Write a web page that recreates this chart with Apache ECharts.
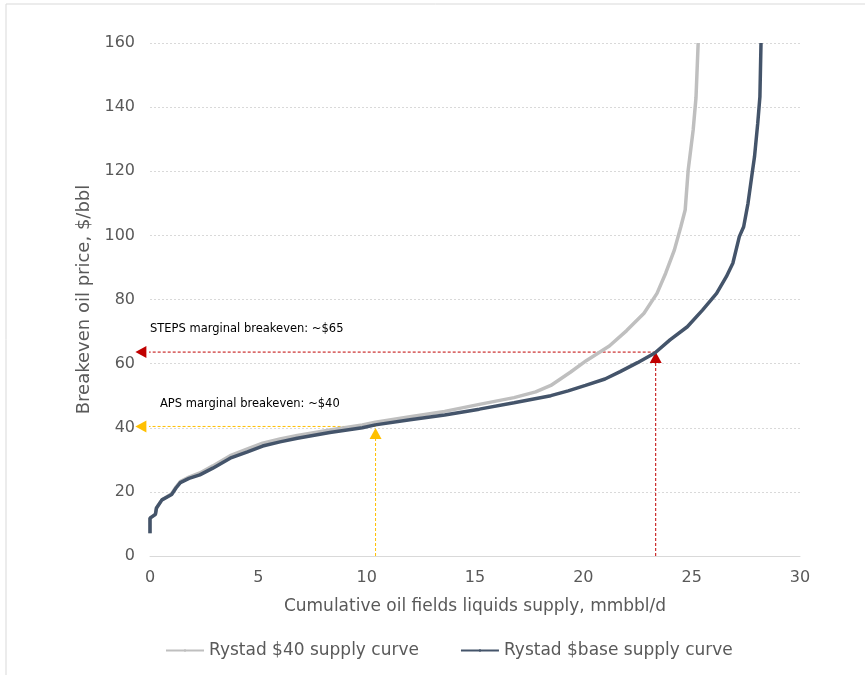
<!DOCTYPE html>
<html>
<head>
<meta charset="utf-8">
<script src="https://cdn.jsdelivr.net/npm/echarts@6/dist/echarts.min.js"></script>
<style>
html,body{margin:0;padding:0;background:#fff;}
#chart{width:865px;height:675px;}
</style>
</head>
<body>
<div id="chart"></div>
<script>
// Series names
const seriesNames = ['Rystad $40 supply curve', 'Rystad $base supply curve'];

// Rystad $40 supply curve: [cumulative supply mmbbl/d, breakeven $/bbl]
const curve40 = [
  [0,7.1],[0,11.8],[0.25,13],[0.3,15],[0.55,17.5],[1.0,19.4],[1.2,21.5],[1.4,23.2],
  [1.8,24.6],[2.3,25.9],[2.9,28.1],[3.7,31.3],[4.5,33.4],[5.2,35.2],[6.0,36.5],
  [6.8,37.6],[8.3,39.3],[9.8,40.9],[10.4,41.7],[12,43.4],[13.6,45.1],[15.2,47.3],
  [16.8,49.4],[17.8,51.2],[18.5,53.2],[19.4,57.3],[20.15,61.0],[21.2,65.5],[22.0,70.3],
  [22.8,75.7],[23.4,81.9],[23.8,88.2],[24.2,95.4],[24.5,102.7],[24.7,107.9],
  [24.84,120.4],[25.07,132.9],[25.2,143],[25.3,160]
];

// Rystad $base supply curve
const curveBase = [
  [0,7.1],[0,11.8],[0.25,13],[0.3,15],[0.55,17.5],[1.0,19.2],[1.2,21.2],[1.4,22.9],
  [1.8,24.2],[2.3,25.3],[2.9,27.4],[3.7,30.5],[4.5,32.5],[5.2,34.3],[6.0,35.6],
  [6.8,36.7],[8.3,38.5],[9.8,40.0],[10.4,40.9],[12,42.5],[13.6,44.0],[15.2,45.8],
  [16.8,47.8],[18.5,50.0],[19.3,51.5],[20.1,53.2],[21.0,55.2],[21.7,57.5],[22.5,60.3],
  [23.3,63.3],[24.0,67.4],[24.8,71.5],[25.5,76.7],[26.15,81.9],[26.6,87.1],[26.9,91.3],
  [27.2,99.6],[27.4,102.7],[27.6,110],[27.77,118.3],[27.9,124.5],[28.05,135],
  [28.15,143.3],[28.2,160]
];

// Annotation markers: [x supply, y price]
const stepsPoint = [23.34, 63.6];
const apsPoint = [10.41, 40.4];
const arrowLeftX = -0.42;
const stepsLabel = 'STEPS marginal breakeven: ~$65';
const apsLabel = 'APS marginal breakeven: ~$40';

// Axis ticks
const xTicks = [0, 5, 10, 15, 20, 25, 30];
const yTicks = [0, 20, 40, 60, 80, 100, 120, 140, 160];

const FONT = 'DejaVu Sans';
const chart = echarts.init(document.getElementById('chart'));

function arrowSeries(color, from, to, rot) {
  return {
    type: 'line',
    silent: true,
    clip: false,
    showSymbol: true,
    symbol: 'none',
    lineStyle: { color: color, width: 1, type: [3, 2] },
    z: 1,
    data: [
      { value: from, symbol: 'none' },
      { value: to, symbol: 'triangle', symbolSize: [12, 11], symbolRotate: rot,
        itemStyle: { color: color } }
    ]
  };
}

chart.setOption({
  animation: false,
  backgroundColor: '#fff',
  textStyle: { fontFamily: FONT },
  grid: { left: 150, right: 65, top: 43, bottom: 119 },
  legend: {
    data: seriesNames,
    bottom: 11,
    left: 160,
    itemWidth: 38,
    itemHeight: 3,
    itemGap: 41,
    textStyle: { color: '#595959', fontSize: 17, fontFamily: FONT }
  },
  xAxis: {
    type: 'value',
    min: xTicks[0],
    max: xTicks[xTicks.length - 1],
    interval: 5,
    name: 'Cumulative oil fields liquids supply, mmbbl/d',
    nameLocation: 'middle',
    nameGap: 42,
    nameTextStyle: { color: '#595959', fontSize: 17 },
    axisLine: { show: true, lineStyle: { color: '#d9d9d9', width: 1 } },
    axisTick: { show: false },
    axisLabel: { color: '#595959', fontSize: 16, margin: 14 },
    splitLine: { show: false }
  },
  yAxis: {
    type: 'value',
    min: yTicks[0],
    max: yTicks[yTicks.length - 1],
    interval: 20,
    name: 'Breakeven oil price, $/bbl',
    nameLocation: 'middle',
    nameGap: 54,
    nameTextStyle: { color: '#595959', fontSize: 18 },
    axisLine: { show: false },
    axisTick: { show: false },
    axisLabel: { color: '#595959', fontSize: 16, margin: 15 },
    splitLine: { show: true, lineStyle: { color: '#d9d9d9', type: [2, 2], width: 1 } }
  },
  graphic: [
    { type: 'line', shape: { x1: 6, y1: 4, x2: 865, y2: 4 }, style: { stroke: '#d9d9d9', lineWidth: 1 }, silent: true },
    { type: 'line', shape: { x1: 6, y1: 4, x2: 6, y2: 675 }, style: { stroke: '#d9d9d9', lineWidth: 1 }, silent: true },
    { type: 'text', left: 150, top: 323, style: { text: stepsLabel, fill: '#000', font: '11.5px ' + FONT } },
    { type: 'text', left: 160, top: 398, style: { text: apsLabel, fill: '#000', font: '11.5px ' + FONT } }
  ],
  series: [
    {
      name: seriesNames[0],
      type: 'line',
      data: curve40,
      symbol: 'none',
      showSymbol: false,
      lineStyle: { color: '#BFBFBF', width: 3.5 },
      itemStyle: { color: '#BFBFBF' },
      z: 3
    },
    {
      name: seriesNames[1],
      type: 'line',
      data: curveBase,
      symbol: 'none',
      showSymbol: false,
      lineStyle: { color: '#44546A', width: 3.5 },
      itemStyle: { color: '#44546A' },
      z: 4
    },
    arrowSeries('#C00000', [stepsPoint[0], 0], [stepsPoint[0], stepsPoint[1] - 1.7], 0),
    arrowSeries('#C00000', [stepsPoint[0], stepsPoint[1]], [arrowLeftX, stepsPoint[1]], 90),
    arrowSeries('#FFC000', [apsPoint[0], 0], [apsPoint[0], apsPoint[1] - 2.2], 0),
    arrowSeries('#FFC000', [apsPoint[0], apsPoint[1]], [arrowLeftX, apsPoint[1]], 90)
  ]
});
</script>
</body>
</html>
